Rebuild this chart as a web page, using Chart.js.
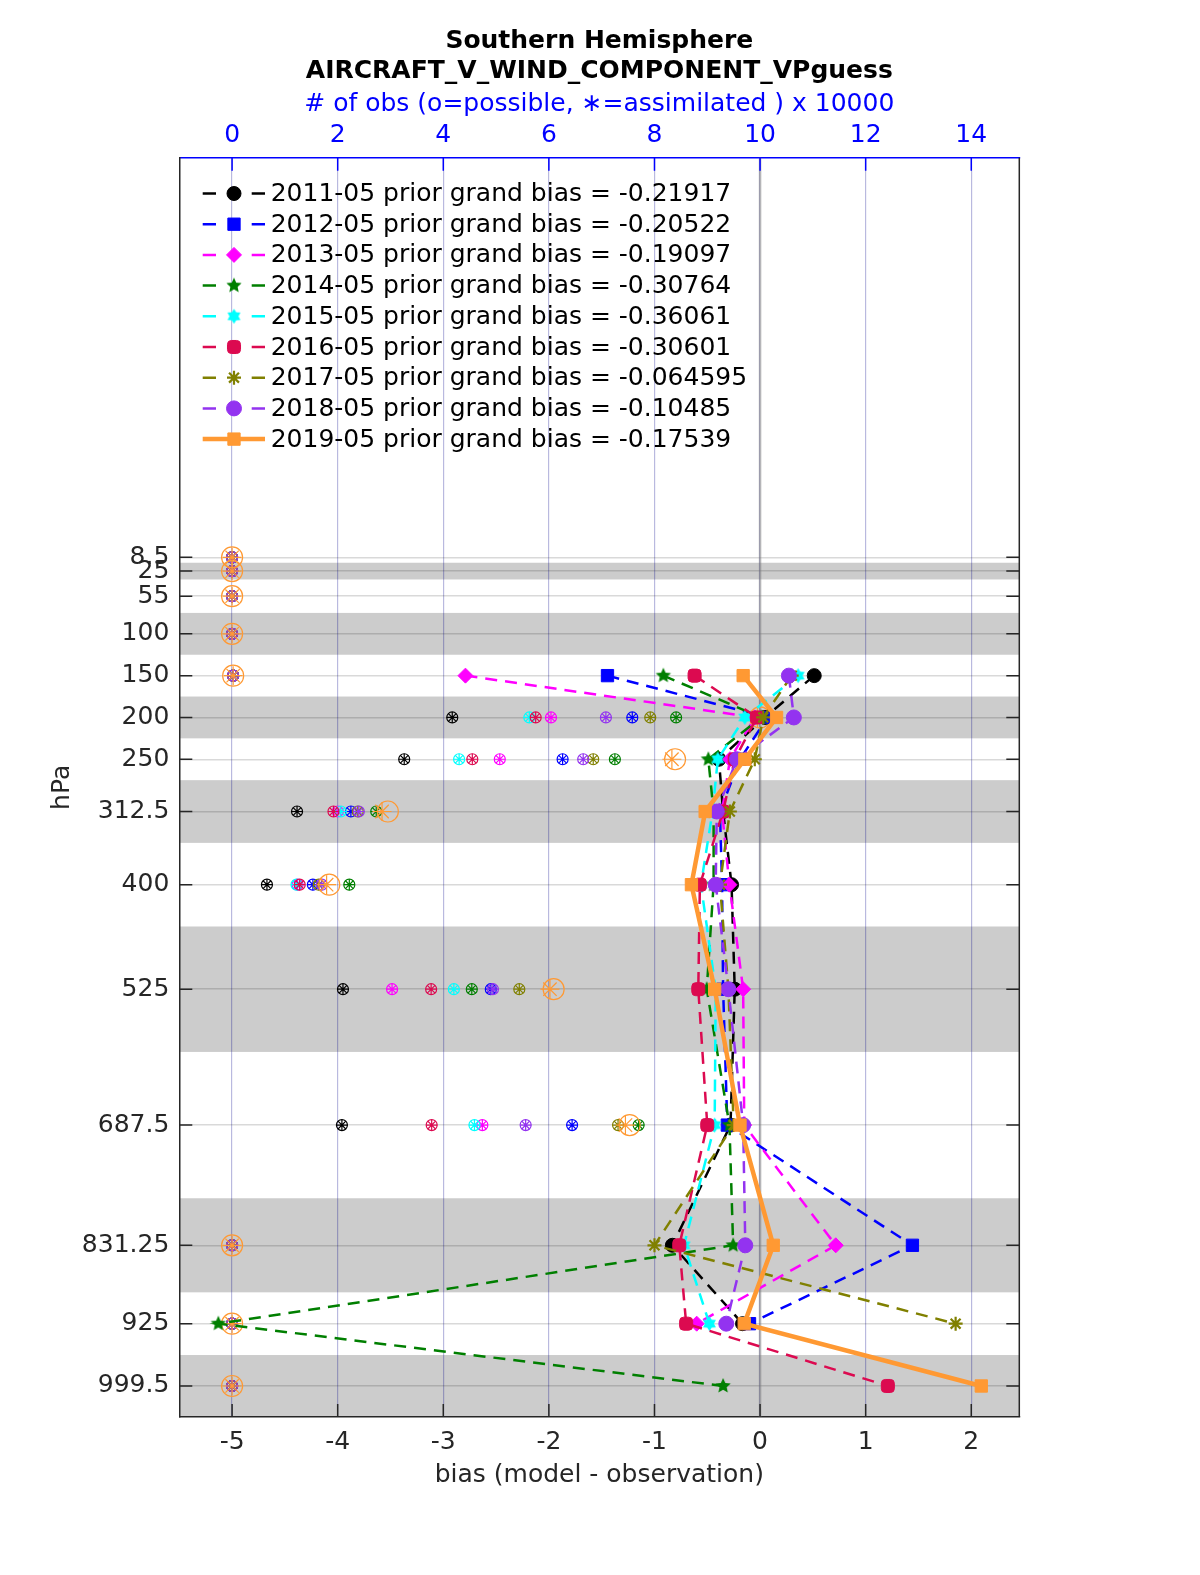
<!DOCTYPE html>
<html>
<head>
<meta charset="utf-8">
<title>AIRCRAFT_V_WIND_COMPONENT_VPguess</title>
<script src="https://cdn.jsdelivr.net/npm/chart.js@4.4.1/dist/chart.umd.min.js"></script>
<style>
  html, body { margin: 0; padding: 0; background: #fff; }
  #wrap { width: 1200px; height: 1575px; }
</style>
</head>
<body>
<div id="wrap"><canvas id="chart" width="1200" height="1575"></canvas></div>
<script>
// pressure levels (hPa) and the shaded bins around them
const levels = [8.5, 25, 55, 100, 150, 200, 250, 312.5, 400, 525, 687.5, 831.25, 925, 999.5];
const shadedBins = [[15, 35], [75, 125], [175, 225], [275, 350], [450, 600], [775, 887.5], [962.5, 1037]];

const biasTicks = [-5, -4, -3, -2, -1, 0, 1, 2];
const obsTicks = [0, 2, 4, 6, 8, 10, 12, 14];

const years = ["2011-05", "2012-05", "2013-05", "2014-05", "2015-05", "2016-05", "2017-05", "2018-05", "2019-05"];
const grandBias = ["-0.21917", "-0.20522", "-0.19097", "-0.30764", "-0.36061", "-0.30601", "-0.064595", "-0.10485", "-0.17539"];

// prior bias (model - observation) per level
const bias2011 = [null, null, null, null, 0.513, 0.045, -0.39, -0.35, -0.27, -0.24, -0.28, -0.83, -0.166, null];
const bias2012 = [null, null, null, null, -1.445, 0.07, -0.19, -0.38, -0.36, -0.35, -0.31, 1.443, -0.10, null];
const bias2013 = [null, null, null, null, -2.79, -0.05, -0.285, -0.36, -0.29, -0.16, -0.15, 0.717, -0.60, null];
const bias2014 = [null, null, null, null, -0.916, 0.01, -0.49, -0.44, -0.44, -0.505, -0.29, -0.255, -5.13, -0.35];
const bias2015 = [null, null, null, null, 0.36, -0.144, -0.40, -0.45, -0.56, -0.42, -0.43, -0.72, -0.48, null];
const bias2016 = [null, null, null, null, -0.62, -0.03, -0.24, -0.35, -0.57, -0.585, -0.50, -0.765, -0.70, 1.21];
const bias2017 = [null, null, null, null, 0.30, 0.03, -0.05, -0.286, -0.38, -0.30, -0.25, -1.00, 1.852, null];
const bias2018 = [null, null, null, null, 0.273, 0.32, -0.22, -0.41, -0.42, -0.30, -0.16, -0.14, -0.32, null];
const bias2019 = [null, null, null, null, -0.16, 0.156, -0.144, -0.52, -0.65, -0.43, -0.19, 0.125, -0.15, 2.095];

// number of obs x 10000 : possible (o)
const poss2011 = [0, 0, 0, 0, 0.02, 4.17, 3.26, 1.23, 0.66, 2.10, 2.08, 0, 0, 0];
const poss2012 = [0, 0, 0, 0, 0.02, 7.58, 6.26, 2.25, 1.53, 4.90, 6.44, 0, 0, 0];
const poss2013 = [0, 0, 0, 0, 0.02, 6.04, 5.07, 2.00, 1.24, 3.03, 4.74, 0, 0, 0];
const poss2014 = [0, 0, 0, 0, 0.02, 8.41, 7.25, 2.73, 2.22, 4.54, 7.70, 0, 0, 0];
const poss2015 = [0, 0, 0, 0, 0.02, 5.63, 4.30, 2.06, 1.22, 4.20, 4.59, 0, 0, 0];
const poss2016 = [0, 0, 0, 0, 0.02, 5.75, 4.55, 1.92, 1.28, 3.77, 3.78, 0, 0, 0];
const poss2017 = [0, 0, 0, 0, 0.02, 7.92, 6.84, 2.38, 1.64, 5.44, 7.31, 0, 0, 0];
const poss2018 = [0, 0, 0, 0, 0.02, 7.08, 6.65, 2.40, 1.70, 4.94, 5.56, 0, 0, 0];
const poss2019 = [0, 0, 0, 0, 0.02, 10.0, 8.39, 2.95, 1.84, 6.09, 7.53, 0, 0, 0];

// number of obs x 10000 : assimilated (*)
const used2011 = [0, 0, 0, 0, 0.02, 4.17, 3.26, 1.23, 0.66, 2.10, 2.08, 0, 0, 0];
const used2012 = [0, 0, 0, 0, 0.02, 7.58, 6.26, 2.25, 1.53, 4.90, 6.44, 0, 0, 0];
const used2013 = [0, 0, 0, 0, 0.02, 6.04, 5.07, 2.00, 1.24, 3.03, 4.74, 0, 0, 0];
const used2014 = [0, 0, 0, 0, 0.02, 8.41, 7.25, 2.73, 2.22, 4.54, 7.70, 0, 0, 0];
const used2015 = [0, 0, 0, 0, 0.02, 5.63, 4.30, 2.06, 1.22, 4.20, 4.59, 0, 0, 0];
const used2016 = [0, 0, 0, 0, 0.02, 5.75, 4.55, 1.92, 1.28, 3.77, 3.78, 0, 0, 0];
const used2017 = [0, 0, 0, 0, 0.02, 7.92, 6.84, 2.38, 1.64, 5.44, 7.31, 0, 0, 0];
const used2018 = [0, 0, 0, 0, 0.02, 7.08, 6.65, 2.40, 1.70, 4.94, 5.56, 0, 0, 0];
const used2019 = [0, 0, 0, 0, 0.02, 9.95, 8.33, 2.84, 1.79, 6.02, 7.45, 0, 0, 0];

const biasSeries = [bias2011, bias2012, bias2013, bias2014, bias2015, bias2016, bias2017, bias2018, bias2019];
const possSeries = [poss2011, poss2012, poss2013, poss2014, poss2015, poss2016, poss2017, poss2018, poss2019];
const usedSeries = [used2011, used2012, used2013, used2014, used2015, used2016, used2017, used2018, used2019];

const colors = ["#000000", "#0000ff", "#ff00ff", "#007f00", "#00ffff", "#dc0a50", "#808000", "#9333f0", "#ff9933"];

function starShape(points, outer, inner, color) {
  const c = document.createElement("canvas");
  const size = Math.ceil(outer * 2 + 2);
  c.width = size;
  c.height = size;
  const g = c.getContext("2d");
  g.fillStyle = color;
  g.beginPath();
  for (let i = 0; i < points * 2; i++) {
    const r = i % 2 === 0 ? outer : inner;
    const a = -Math.PI / 2 + (i * Math.PI) / points;
    const px = size / 2 + r * Math.cos(a);
    const py = size / 2 + r * Math.sin(a);
    if (i === 0) g.moveTo(px, py);
    else g.lineTo(px, py);
  }
  g.closePath();
  g.fill();
  return c;
}

const markers = [
  { style: "circle", radius: 7 },
  { style: "rect", radius: 8.7 },
  { style: "rectRot", radius: 7.5 },
  { style: starShape(5, 8, 3.8, colors[3]), radius: 7 },
  { style: starShape(6, 7.5, 4.5, colors[4]), radius: 7 },
  { style: "rectRounded", radius: 7.6 },
  { style: "star", radius: 7 },
  { style: "circle", radius: 7.5 },
  { style: "rect", radius: 8.7 },
];

const datasets = [];
years.forEach((year, i) => {
  const solid = i === years.length - 1;
  datasets.push({
    label: year + " prior grand bias = " + grandBias[i],
    data: levels.map((p, k) => ({ x: biasSeries[i][k], y: p })).filter((d) => d.x !== null),
    xAxisID: "x",
    yAxisID: "y",
    showLine: true,
    borderColor: colors[i],
    backgroundColor: colors[i],
    borderWidth: solid ? 4.5 : 2.5,
    borderDash: solid ? [] : [12, 8],
    pointStyle: markers[i].style,
    pointRadius: markers[i].radius,
    pointBackgroundColor: colors[i],
    pointBorderColor: colors[i],
    pointBorderWidth: markers[i].style === "star" ? 2.2 : 1,
    order: 10 - i,
    legendLine: true,
  });
});
years.forEach((year, i) => {
  const big = i === years.length - 1;
  datasets.push({
    label: year + " possible",
    data: levels.map((p, k) => ({ x: possSeries[i][k], y: p })),
    xAxisID: "x2",
    yAxisID: "y",
    showLine: false,
    pointStyle: "circle",
    pointRadius: big ? 10.5 : 5.5,
    pointBackgroundColor: "rgba(0,0,0,0)",
    pointBorderColor: colors[i],
    pointBorderWidth: 1.2,
    order: 40 - i,
  });
  datasets.push({
    label: year + " assimilated",
    data: levels.map((p, k) => ({ x: usedSeries[i][k], y: p })),
    xAxisID: "x2",
    yAxisID: "y",
    showLine: false,
    pointStyle: "star",
    pointRadius: big ? 9.5 : 5.5,
    pointBackgroundColor: "rgba(0,0,0,0)",
    pointBorderColor: colors[i],
    pointBorderWidth: 1.2,
    order: 40 - i,
  });
});

const axisColor = "#262626";

const bandsPlugin = {
  id: "bands",
  beforeDraw(chart) {
    const { ctx, chartArea: a, scales } = chart;
    ctx.save();
    ctx.fillStyle = "#cccccc";
    shadedBins.forEach(([p0, p1]) => {
      const y0 = Math.max(a.top, scales.y.getPixelForValue(p0));
      const y1 = Math.min(a.bottom, scales.y.getPixelForValue(p1));
      ctx.fillRect(a.left, y0, a.right - a.left, y1 - y0);
    });
    ctx.restore();
  },
  beforeDatasetsDraw(chart) {
    const { ctx, chartArea: a, scales } = chart;
    const x0 = scales.x.getPixelForValue(0);
    ctx.save();
    ctx.strokeStyle = "rgba(130,130,130,0.55)";
    ctx.lineWidth = 2.5;
    ctx.beginPath();
    ctx.moveTo(x0, a.top);
    ctx.lineTo(x0, a.bottom);
    ctx.stroke();
    ctx.restore();
  },
};

function drawMarker(ctx, ds, x, y) {
  ctx.save();
  ctx.fillStyle = ds.pointBackgroundColor;
  ctx.strokeStyle = ds.pointBorderColor;
  ctx.lineWidth = ds.pointBorderWidth;
  Chart.helpers.drawPoint(ctx, {
    pointStyle: ds.pointStyle,
    radius: ds.pointRadius,
    rotation: 0,
    borderWidth: ds.pointBorderWidth,
  }, x, y);
  ctx.restore();
}

const framePlugin = {
  id: "frame",
  afterDraw(chart) {
    const { ctx, chartArea: a, scales } = chart;
    const tick = 13;
    ctx.save();
    ctx.lineWidth = 1.5;

    // inward tick marks
    ctx.strokeStyle = axisColor;
    ctx.beginPath();
    levels.forEach((p) => {
      const py = scales.y.getPixelForValue(p);
      ctx.moveTo(a.left, py);
      ctx.lineTo(a.left + tick, py);
      ctx.moveTo(a.right, py);
      ctx.lineTo(a.right - tick, py);
    });
    biasTicks.forEach((v) => {
      const px = scales.x.getPixelForValue(v);
      ctx.moveTo(px, a.bottom);
      ctx.lineTo(px, a.bottom - tick);
    });
    ctx.moveTo(a.right, a.top);
    ctx.lineTo(a.right, a.bottom);
    ctx.stroke();

    ctx.strokeStyle = "#0000ff";
    ctx.beginPath();
    obsTicks.forEach((v) => {
      const px = scales.x2.getPixelForValue(v);
      ctx.moveTo(px, a.top);
      ctx.lineTo(px, a.top + tick);
    });
    ctx.stroke();

    // title
    const cx = (a.left + a.right) / 2;
    ctx.fillStyle = "#000000";
    ctx.textAlign = "center";
    ctx.textBaseline = "middle";
    ctx.font = "bold 25px 'DejaVu Sans'";
    ctx.fillText("Southern Hemisphere", cx, 41.5);
    ctx.fillText("AIRCRAFT_V_WIND_COMPONENT_VPguess", cx, 71.5);

    // legend
    ctx.font = "25px 'DejaVu Sans'";
    ctx.textAlign = "left";
    chart.data.datasets.filter((d) => d.legendLine).forEach((ds, i) => {
      const ly = 193.5 + 30.7 * i;
      ctx.save();
      ctx.strokeStyle = ds.borderColor;
      ctx.lineWidth = ds.borderWidth;
      ctx.beginPath();
      if (ds.borderDash.length) {
        ctx.moveTo(202.7, ly);
        ctx.lineTo(216, ly);
        ctx.moveTo(251.7, ly);
        ctx.lineTo(265, ly);
      } else {
        ctx.moveTo(202.7, ly);
        ctx.lineTo(265, ly);
      }
      ctx.stroke();
      ctx.restore();
      drawMarker(ctx, ds, 234, ly);
      ctx.fillStyle = "#000000";
      ctx.fillText(ds.label, 270.7, ly + 1);
    });
    ctx.restore();
  },
};

Chart.defaults.font.family = "'DejaVu Sans', sans-serif";

new Chart(document.getElementById("chart"), {
  type: "scatter",
  data: { datasets },
  options: {
    responsive: false,
    animation: false,
    events: [],
    layout: { padding: { left: 0, right: 180.7, top: 0, bottom: 0 } },
    plugins: { legend: { display: false }, tooltip: { enabled: false }, title: { display: false } },
    scales: {
      x: {
        type: "linear",
        position: "bottom",
        min: -5.5,
        max: 2.455,
        afterBuildTicks: (s) => { s.ticks = biasTicks.map((v) => ({ value: v })); },
        afterFit: (s) => { s.height = 158; },
        ticks: { color: axisColor, font: { size: 25 }, padding: 10 },
        grid: { color: "rgba(0,0,0,0.15)", lineWidth: 1.2, drawTicks: false },
        border: { color: axisColor, width: 1.5 },
        title: { display: true, text: "bias (model - observation)", color: axisColor, font: { size: 25 }, padding: { top: 0, bottom: 85 } },
      },
      x2: {
        type: "linear",
        position: "top",
        min: -1,
        max: 14.91,
        afterBuildTicks: (s) => { s.ticks = obsTicks.map((v) => ({ value: v })); },
        afterFit: (s) => { s.height = 157.7; },
        ticks: { color: "#0000ff", font: { size: 25 }, padding: 7 },
        grid: { color: "rgba(0,0,255,0.15)", lineWidth: 1.2, drawTicks: false },
        border: { color: "#0000ff", width: 1.5 },
        title: { display: true, text: "# of obs (o=possible, \u2217=assimilated ) x 10000", color: "#0000ff", font: { size: 25 }, padding: { top: 89.5, bottom: 0 } },
      },
      y: {
        type: "linear",
        position: "left",
        reverse: true,
        min: -469.4,
        max: 1036.6,
        afterBuildTicks: (s) => { s.ticks = levels.map((v) => ({ value: v })); },
        afterFit: (s) => { s.width = 179.3; },
        ticks: { autoSkip: false, color: axisColor, font: { size: 25 }, padding: 10, callback: (v) => String(v) },
        grid: { color: "rgba(0,0,0,0.15)", lineWidth: 1.5, drawTicks: false },
        border: { color: axisColor, width: 1.5 },
        title: { display: true, text: "hPa", color: axisColor, font: { size: 25 }, padding: { top: 47, bottom: 0 } },
      },
    },
  },
  plugins: [bandsPlugin, framePlugin],
});
</script>
</body>
</html>
